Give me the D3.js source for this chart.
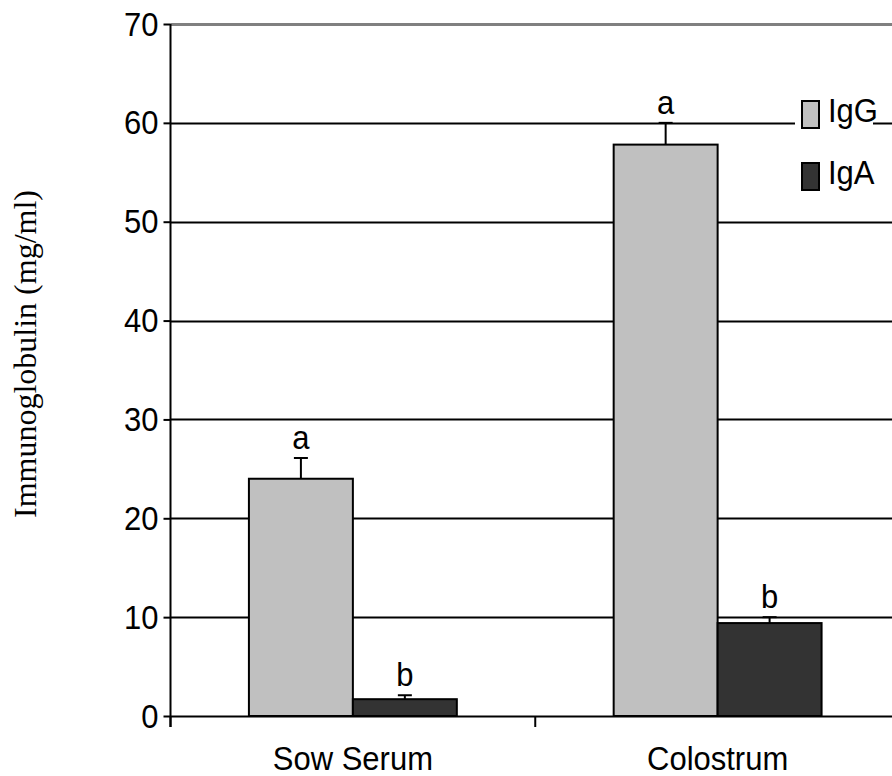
<!DOCTYPE html>
<html>
<head>
<meta charset="utf-8">
<script src="https://cdn.jsdelivr.net/npm/d3@7"></script>
<style>
  html, body { margin: 0; padding: 0; background: #fff; }
  svg { display: block; }
  text { font-family: Arial, "Liberation Sans", sans-serif; fill: #000; }
</style>
</head>
<body>
<script>
// Immunoglobulin concentrations in sow serum and colostrum
const categories = ["Sow Serum", "Colostrum"];
const series = ["IgG", "IgA"];
const igG = [24.0, 57.8];
const igA = [1.7, 9.4];
const igGErr = [2.1, 2.2];
const igAErr = [0.4, 0.6];
const igGLetters = ["a", "a"];
const igALetters = ["b", "b"];
const yTicks = [0, 10, 20, 30, 40, 50, 60, 70];
const colors = { IgG: "#c0c0c0", IgA: "#333333" };

const width = 892, height = 776;
const stretch = 1.1; // slightly tall lettering
const svg = d3.select("body").append("svg")
  .attr("width", width).attr("height", height);

const left = 170.5, right = 900;
const x = d3.scaleBand().domain(categories).range([left, right])
  .paddingInner(0.43).paddingOuter(0.215);
const xs = d3.scaleBand().domain(series).range([0, x.bandwidth()]);
const y = d3.scaleLinear().domain([0, 70]).range([716, 24]);

const rows = categories.map((c, i) => [
  { cat: c, s: "IgG", v: igG[i], e: igGErr[i], t: igGLetters[i] },
  { cat: c, s: "IgA", v: igA[i], e: igAErr[i], t: igALetters[i] }
]).flat();

const placed = (px, py) => `translate(${px},${py}) scale(1,${stretch})`;

// horizontal gridlines (top line is grey)
svg.append("g").selectAll("line").data(yTicks).join("line")
  .attr("x1", left).attr("x2", width)
  .attr("y1", d => Math.round(y(d)) + 0.5).attr("y2", d => Math.round(y(d)) + 0.5)
  .attr("stroke", d => d === 70 ? "#808080" : "#000")
  .attr("stroke-width", d => d === 70 ? 3 : 2);

// y axis
const yAxis = d3.axisLeft(y).tickValues(yTicks).tickSize(7).tickPadding(5);
const gy = svg.append("g").attr("transform", `translate(${left},0)`).call(yAxis);
gy.select(".domain").remove();
gy.selectAll(".tick line").attr("stroke", "#000").attr("stroke-width", 2);
gy.selectAll(".tick text").style("font-size", "31px")
  .attr("font-family", "Arial, 'Liberation Sans', sans-serif").attr("fill", "#000")
  .attr("x", null).attr("dy", null)
  .attr("transform", placed(-12, 11));
svg.append("line").attr("x1", left).attr("x2", left)
  .attr("y1", y(70)).attr("y2", 727)
  .attr("stroke", "#000").attr("stroke-width", 2);

// category boundary ticks below the baseline
const bounds = [left, left + x.step(), left + 2 * x.step()];
svg.append("g").selectAll("line").data(bounds).join("line")
  .attr("x1", d => d).attr("x2", d => d)
  .attr("y1", y(0)).attr("y2", 727)
  .attr("stroke", "#000").attr("stroke-width", 2);

// category labels
svg.append("g").selectAll("text").data(categories).join("text")
  .attr("transform", d => placed(x(d) + x.bandwidth() / 2, 770))
  .attr("text-anchor", "middle").style("font-size", "31px")
  .text(d => d);

// bars
const bx = d => x(d.cat) + xs(d.s);
svg.append("g").selectAll("rect").data(rows).join("rect")
  .attr("x", bx).attr("width", xs.bandwidth())
  .attr("y", d => y(d.v)).attr("height", d => y(0) - y(d.v))
  .attr("fill", d => colors[d.s]).attr("stroke", "#000").attr("stroke-width", 2);

// error bars
const eb = svg.append("g").attr("stroke", "#000").attr("stroke-width", 2);
const cx = d => bx(d) + xs.bandwidth() / 2;
eb.selectAll(".v").data(rows).join("line").attr("class", "v")
  .attr("x1", cx).attr("x2", cx)
  .attr("y1", d => y(d.v)).attr("y2", d => y(d.v + d.e));
eb.selectAll(".c").data(rows).join("line").attr("class", "c")
  .attr("x1", d => cx(d) - 7).attr("x2", d => cx(d) + 7)
  .attr("y1", d => y(d.v + d.e)).attr("y2", d => y(d.v + d.e));

// significance letters
svg.append("g").selectAll("text").data(rows).join("text")
  .attr("transform", d => placed(cx(d), y(d.v + d.e) - 9))
  .attr("text-anchor", "middle").style("font-size", "31px")
  .text(d => d.t);

// legend
const lg = svg.append("g");
lg.append("rect").attr("x", 795).attr("y", 88).attr("width", 78).attr("height", 112)
  .attr("fill", "#fff");
series.forEach((s, i) => {
  const top = 101 + i * 62;
  lg.append("rect").attr("x", 802).attr("y", top).attr("width", 17).attr("height", 27)
    .attr("fill", colors[s]).attr("stroke", "#000").attr("stroke-width", 2);
  lg.append("text").attr("transform", placed(828, top + 21))
    .style("font-size", "31px").text(s);
});

// y axis title
svg.append("text")
  .attr("transform", "translate(36,354) rotate(-90)")
  .attr("text-anchor", "middle")
  .style("font-family", "'Liberation Serif', 'Times New Roman', serif")
  .style("font-size", "32px")
  .text("Immunoglobulin (mg/ml)");
</script>
</body>
</html>
